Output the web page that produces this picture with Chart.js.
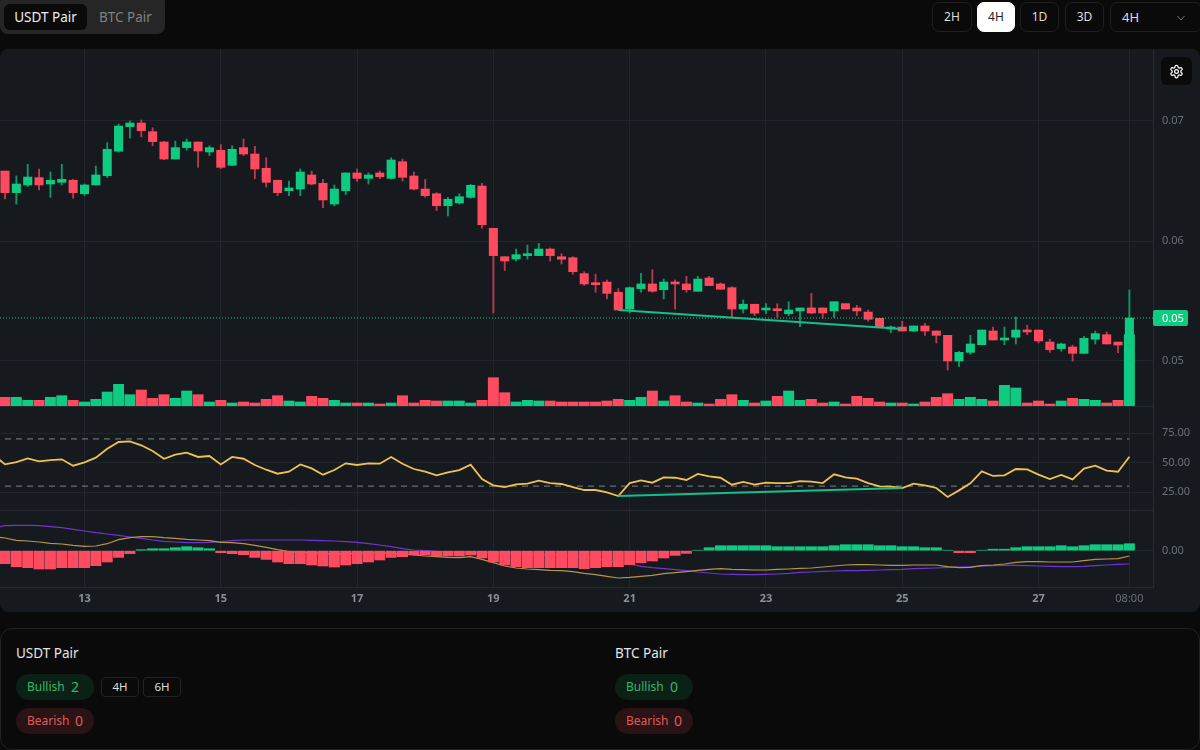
<!DOCTYPE html>
<html>
<head>
<meta charset="utf-8">
<script src="https://cdn.jsdelivr.net/npm/chart.js@4"></script>
<style>
  * { box-sizing: border-box; }
  html, body { margin: 0; width: 1200px; height: 750px; overflow: hidden; background: #0a0a0a; font-family: "Noto Sans", sans-serif; }
  .abs { position: absolute; }
  .seg { left: 0; top: -6px; width: 165px; height: 40px; background: #262626; border-radius: 8px; }
  .seg-on { left: 4px; top: 4px; width: 83px; height: 26px; background: #0a0a0a; border-radius: 6px; color: #eee; font-size: 13.5px; line-height: 26px; text-align: center; }
  .seg-off { left: 99px; top: 4px; color: #808080; font-size: 13.5px; line-height: 26px; }
  .tf { top: 2px; height: 30px; border: 1px solid #1f1f1f; border-radius: 7px; color: #ddd; font-size: 12px; line-height: 28px; text-align: center; }
  .tf.on { background: #fff; color: #222; border-color: #fff; }
  .panel { left: 0; top: 49px; width: 1200px; height: 563px; background: #161a1f; border-radius: 8px; overflow: hidden; }
  canvas { position: absolute; left: 0; display: block; }
  .gear { left: 1161px; top: 8px; width: 31px; height: 28px; background: #0a0a0a; border-radius: 6px; }
  .card { left: 0; top: 628px; width: 1200px; height: 122px; border: 1px solid #222; border-radius: 12px; background: #0a0a0a; }
  .title { top: 14px; color: #e5e5e5; font-size: 13.5px; line-height: 20px; }
  .pill { width: 78px; height: 26px; border-radius: 13px; font-size: 12px; line-height: 26px; padding-left: 11px; }
  .pill b { font-weight: 400; font-size: 14px; position: absolute; left: 55px; top: 0; }
  .bear b { left: 59px; }
  .bull { background: #0c2116; color: #37b56a; }
  .bear { background: #2a1315; color: #e05a5a; }
  .tag { top: 48px; height: 20px; border: 1px solid #222; border-radius: 4px; color: #ddd; font-size: 11.5px; line-height: 18px; text-align: center; }
</style>
</head>
<body>
<div class="abs seg">
  <div class="abs seg-on" style="top:10px">USDT Pair</div>
  <div class="abs seg-off" style="top:10px">BTC Pair</div>
</div>
<div class="abs tf" style="left:932px;width:40px">2H</div>
<div class="abs tf on" style="left:977px;width:38px">4H</div>
<div class="abs tf" style="left:1020px;width:39px">1D</div>
<div class="abs tf" style="left:1065px;width:39px">3D</div>
<div class="abs tf" style="left:1110px;width:92px;text-align:left;padding-left:11px;font-size:13px">4H
  <svg class="abs" style="left:64px;top:9px" width="12" height="12" viewBox="0 0 24 24" fill="none" stroke="#777" stroke-width="2"><polyline points="5 8 12 16 19 8"/></svg>
</div>

<div class="abs panel">
  <canvas id="priceChart" width="1200" height="358" style="top:0"></canvas>
  <canvas id="rsiChart" width="1200" height="105" style="top:357px"></canvas>
  <canvas id="macdChart" width="1200" height="102" style="top:461px"></canvas>
  <div class="abs gear">
    <svg class="abs" style="left:8px;top:7px" width="15" height="15" viewBox="0 0 24 24" fill="none" stroke="#fff" stroke-width="2" stroke-linecap="round" stroke-linejoin="round"><path d="M12.22 2h-.44a2 2 0 0 0-2 2v.18a2 2 0 0 1-1 1.73l-.43.25a2 2 0 0 1-2 0l-.15-.08a2 2 0 0 0-2.73.73l-.22.38a2 2 0 0 0 .73 2.73l.15.1a2 2 0 0 1 1 1.72v.51a2 2 0 0 1-1 1.74l-.15.09a2 2 0 0 0-.73 2.73l.22.38a2 2 0 0 0 2.73.73l.15-.08a2 2 0 0 1 2 0l.43.25a2 2 0 0 1 1 1.73V20a2 2 0 0 0 2 2h.44a2 2 0 0 0 2-2v-.18a2 2 0 0 1 1-1.73l.43-.25a2 2 0 0 1 2 0l.15.08a2 2 0 0 0 2.73-.73l.22-.39a2 2 0 0 0-.73-2.73l-.15-.08a2 2 0 0 1-1-1.74v-.5a2 2 0 0 1 1-1.74l.15-.09a2 2 0 0 0 .73-2.73l-.22-.38a2 2 0 0 0-2.73-.73l-.15.08a2 2 0 0 1-2 0l-.43-.25a2 2 0 0 1-1-1.73V4a2 2 0 0 0-2-2z"/><circle cx="12" cy="12" r="3"/></svg>
  </div>
</div>

<div class="abs card">
  <div class="abs title" style="left:15px">USDT Pair</div>
  <div class="abs pill bull" style="left:15px;top:45px">Bullish<b>2</b></div>
  <div class="abs tag" style="left:100px;width:38px">4H</div>
  <div class="abs tag" style="left:142px;width:38px">6H</div>
  <div class="abs pill bear" style="left:15px;top:79px">Bearish<b>0</b></div>
  <div class="abs title" style="left:614px">BTC Pair</div>
  <div class="abs pill bull" style="left:614px;top:45px">Bullish<b>0</b></div>
  <div class="abs pill bear" style="left:614px;top:79px">Bearish<b>0</b></div>
</div>

<script>
const candleIdx = Array.from({ length: 100 }, (_, i) => i);

const openPrices = [
  0.06583, 0.06403, 0.06467, 0.06528, 0.06475, 0.06489, 0.06506, 0.06394, 0.06467, 0.06544,
  0.06748, 0.06953, 0.06983, 0.06911, 0.06825, 0.06683, 0.06778, 0.06825, 0.06742, 0.06756,
  0.06631, 0.06778, 0.06725, 0.06606, 0.06506, 0.06419, 0.06433, 0.06550, 0.06481, 0.06308,
  0.06419, 0.06567, 0.06522, 0.06567, 0.06522, 0.06661, 0.06542, 0.06433, 0.06394, 0.06294,
  0.06317, 0.06364, 0.06458, 0.06106, 0.05869, 0.05850, 0.05878, 0.05878, 0.05933, 0.05869,
  0.05861, 0.05728, 0.05650, 0.05658, 0.05573, 0.05433, 0.05603, 0.05642, 0.05594, 0.05658,
  0.05642, 0.05581, 0.05692, 0.05642, 0.05611, 0.05433, 0.05473, 0.05425, 0.05433, 0.05394,
  0.05417, 0.05442, 0.05442, 0.05417, 0.05478, 0.05442, 0.05408, 0.05356, 0.05267, 0.05283,
  0.05250, 0.05292, 0.05250, 0.05214, 0.05000, 0.05072, 0.05136, 0.05250, 0.05175, 0.05198,
  0.05258, 0.05258, 0.05158, 0.05103, 0.05117, 0.05064, 0.05181, 0.05219, 0.05158, 0.05133
];
const closePrices = [
  0.06403, 0.06475, 0.06533, 0.06467, 0.06506, 0.06514, 0.06403, 0.06467, 0.06550, 0.06764,
  0.06958, 0.06983, 0.06919, 0.06828, 0.06683, 0.06778, 0.06825, 0.06750, 0.06778, 0.06614,
  0.06764, 0.06725, 0.06600, 0.06489, 0.06403, 0.06442, 0.06575, 0.06475, 0.06342, 0.06433,
  0.06567, 0.06522, 0.06550, 0.06536, 0.06675, 0.06531, 0.06433, 0.06378, 0.06294, 0.06348,
  0.06369, 0.06464, 0.06136, 0.05878, 0.05833, 0.05886, 0.05894, 0.05933, 0.05878, 0.05848,
  0.05744, 0.05642, 0.05636, 0.05564, 0.05425, 0.05611, 0.05642, 0.05581, 0.05658, 0.05642,
  0.05594, 0.05683, 0.05628, 0.05598, 0.05433, 0.05473, 0.05398, 0.05433, 0.05419, 0.05425,
  0.05442, 0.05400, 0.05400, 0.05494, 0.05433, 0.05417, 0.05348, 0.05281, 0.05278, 0.05250,
  0.05292, 0.05250, 0.05214, 0.05000, 0.05072, 0.05142, 0.05258, 0.05175, 0.05186, 0.05258,
  0.05242, 0.05167, 0.05094, 0.05142, 0.05064, 0.05189, 0.05228, 0.05142, 0.05133, 0.05358
];
const highPrices = [
  0.06583, 0.06542, 0.06639, 0.06600, 0.06575, 0.06639, 0.06514, 0.06475, 0.06625, 0.06819,
  0.06975, 0.07000, 0.07008, 0.06944, 0.06831, 0.06833, 0.06850, 0.06825, 0.06794, 0.06803,
  0.06794, 0.06850, 0.06789, 0.06694, 0.06508, 0.06500, 0.06600, 0.06583, 0.06514, 0.06467,
  0.06567, 0.06600, 0.06567, 0.06583, 0.06694, 0.06683, 0.06575, 0.06514, 0.06403, 0.06364,
  0.06394, 0.06472, 0.06481, 0.06106, 0.05869, 0.05933, 0.05967, 0.05981, 0.05942, 0.05894,
  0.05869, 0.05744, 0.05723, 0.05675, 0.05603, 0.05617, 0.05731, 0.05761, 0.05683, 0.05675,
  0.05706, 0.05706, 0.05706, 0.05650, 0.05619, 0.05508, 0.05473, 0.05478, 0.05478, 0.05494,
  0.05442, 0.05564, 0.05442, 0.05494, 0.05478, 0.05464, 0.05425, 0.05356, 0.05292, 0.05331,
  0.05292, 0.05314, 0.05250, 0.05214, 0.05081, 0.05214, 0.05258, 0.05283, 0.05283, 0.05367,
  0.05298, 0.05258, 0.05181, 0.05150, 0.05133, 0.05206, 0.05250, 0.05242, 0.05158, 0.05592
];
const lowPrices = [
  0.06350, 0.06308, 0.06453, 0.06425, 0.06364, 0.06467, 0.06356, 0.06378, 0.06467, 0.06528,
  0.06739, 0.06858, 0.06867, 0.06794, 0.06678, 0.06683, 0.06756, 0.06614, 0.06711, 0.06603,
  0.06628, 0.06711, 0.06519, 0.06450, 0.06378, 0.06378, 0.06378, 0.06467, 0.06278, 0.06292,
  0.06386, 0.06497, 0.06475, 0.06519, 0.06517, 0.06500, 0.06425, 0.06364, 0.06253, 0.06208,
  0.06308, 0.06356, 0.06106, 0.05400, 0.05753, 0.05833, 0.05848, 0.05878, 0.05833, 0.05808,
  0.05723, 0.05628, 0.05573, 0.05517, 0.05425, 0.05400, 0.05573, 0.05573, 0.05517, 0.05433,
  0.05573, 0.05581, 0.05628, 0.05598, 0.05356, 0.05400, 0.05378, 0.05394, 0.05364, 0.05378,
  0.05286, 0.05394, 0.05358, 0.05364, 0.05433, 0.05378, 0.05331, 0.05281, 0.05236, 0.05250,
  0.05242, 0.05214, 0.05150, 0.04925, 0.04953, 0.05056, 0.05136, 0.05175, 0.05136, 0.05142,
  0.05219, 0.05150, 0.05072, 0.05081, 0.05000, 0.05064, 0.05142, 0.05142, 0.05069, 0.05133
];
const volumes = [
  8.7, 8.7, 5.7, 5.7, 8.7, 10.3, 5.7, 4, 6.7, 14,
  21.7, 11.3, 16, 7.7, 11.3, 7.7, 15, 11.3, 4, 5.7,
  3, 4, 3, 6.7, 10.3, 5, 4, 9.7, 7.7, 5.7,
  3, 3, 3, 2, 3, 10.3, 3, 5.7, 5, 5,
  5, 3, 5.7, 28.3, 13.3, 4, 5.7, 5, 5, 4,
  4, 4, 4, 5, 6.7, 5.7, 8.7, 15, 5, 10.3,
  4, 3, 2, 6.7, 11.3, 5.7, 3, 5, 9.7, 15,
  5.7, 6.7, 3, 4, 2, 9.7, 7.7, 4, 3, 3,
  2, 4, 8.7, 12.3, 6.7, 8.7, 6.7, 5, 20.7, 18,
  3, 5, 2, 5, 7.7, 6.7, 5.7, 3, 5.7, 71.3
];
// first entry of the line series sits one candle before the left edge
const rsiValues = [
  56.4,
  48.4, 50.4, 53.5, 51.0, 52.1, 52.7, 47.3, 50.1, 54.1, 61.7,
  67.4, 67.9, 64.6, 59.7, 53.2, 56.6, 58.3, 54.7, 55.5, 48.4,
  54.7, 53.2, 47.9, 43.9, 40.5, 42.2, 48.4, 45.0, 39.7, 43.6,
  49.3, 47.9, 49.3, 49.0, 54.7, 49.0, 44.5, 42.2, 39.1, 41.7,
  43.6, 48.2, 36.0, 30.6, 29.2, 31.5, 32.1, 34.6, 32.6, 31.8,
  29.2, 26.7, 26.7, 24.7, 21.6, 32.6, 34.9, 32.9, 37.4, 37.1,
  35.2, 40.3, 38.3, 37.1, 31.2, 33.5, 31.2, 32.9, 32.6, 32.6,
  34.3, 33.8, 32.6, 40.0, 37.4, 36.3, 32.6, 29.8, 29.5, 28.4,
  32.1, 30.6, 28.4, 20.8, 26.4, 32.4, 42.5, 38.6, 39.1, 44.5,
  44.2, 39.7, 36.0, 39.4, 35.7, 44.8, 47.3, 43.1, 42.2, 54.9
];
const macdHist = [
  -0.0013, -0.0016, -0.0017, -0.00183, -0.00183, -0.0017, -0.0017, -0.0017, -0.0015, -0.00113,
  -0.00067, -0.0003, 0.0001, 0.0002, 0.0002, 0.0003, 0.0004, 0.0003, 0.0002, -0.0002,
  -0.0003, -0.0004, -0.00067, -0.00087, -0.00113, -0.0013, -0.0013, -0.00143, -0.00153, -0.00163,
  -0.00143, -0.0013, -0.00113, -0.00093, -0.00067, -0.0006, -0.00043, -0.00043, -0.00053, -0.00053,
  -0.00053, -0.00043, -0.00073, -0.00113, -0.00143, -0.0016, -0.0017, -0.0017, -0.0017, -0.0017,
  -0.0017, -0.0018, -0.0017, -0.0016, -0.0016, -0.0014, -0.0012, -0.00103, -0.00073, -0.00047,
  -0.00027, 0.00005, 0.0003, 0.0005, 0.0005, 0.0005, 0.0005, 0.0005, 0.0004, 0.0004,
  0.0004, 0.0004, 0.0004, 0.0005, 0.0006, 0.0006, 0.0006, 0.0005, 0.0005, 0.0004,
  0.0004, 0.0003, 0.0003, 0.00005, -0.0002, -0.0002, 0.00005, 0.00015, 0.00015, 0.0003,
  0.0004, 0.0004, 0.0004, 0.0005, 0.0004, 0.0005, 0.0006, 0.0006, 0.0006, 0.0007
];
const macdLine = [
  0.0014,
  0.00127, 0.00103, 0.00097, 0.00087, 0.00073, 0.00067, 0.00053, 0.00043, 0.00047, 0.0007,
  0.0011, 0.0013, 0.0014, 0.0014, 0.0013, 0.00123, 0.00113, 0.00107, 0.001, 0.00083,
  0.0008, 0.0007, 0.00053, 0.00033, 0.0001, -0.0001, -0.00017, -0.0002, -0.00027, -0.00033,
  -0.0003, -0.00027, -0.00023, -0.00017, -0.00027, -0.0003, -0.00043, -0.00053, -0.0006, -0.00067,
  -0.0007, -0.0006, -0.00087, -0.0012, -0.00153, -0.00173, -0.00183, -0.0019, -0.00197, -0.002,
  -0.0021, -0.00227, -0.0024, -0.00257, -0.00273, -0.00267, -0.00257, -0.00247, -0.0023, -0.0022,
  -0.0021, -0.00197, -0.00187, -0.0018, -0.00187, -0.0019, -0.00193, -0.00193, -0.00187, -0.00183,
  -0.00177, -0.00173, -0.00163, -0.00153, -0.00143, -0.0014, -0.0014, -0.00143, -0.00147, -0.00147,
  -0.00143, -0.00143, -0.00143, -0.0016, -0.0017, -0.00167, -0.0015, -0.00143, -0.00133, -0.00117,
  -0.0011, -0.0011, -0.00113, -0.00113, -0.00113, -0.001, -0.00087, -0.00083, -0.0008, -0.00053
];
const signalLine = [
  0.0023,
  0.0025, 0.00253, 0.00253, 0.0025, 0.0024, 0.0023, 0.00213, 0.00197, 0.0018, 0.00167,
  0.00153, 0.00137, 0.00123, 0.00107, 0.00093, 0.00087, 0.0008, 0.0008, 0.00083, 0.0009,
  0.001, 0.00107, 0.00107, 0.00107, 0.00107, 0.00107, 0.00107, 0.00103, 0.001, 0.00097,
  0.0009, 0.00083, 0.0007, 0.00057, 0.0004, 0.0002, 0.00007, 0, -0.00007, -0.0001,
  -0.00013, -0.00013, -0.00017, -0.0002, -0.00023, -0.00027, -0.0003, -0.00037, -0.0004, -0.00047,
  -0.00053, -0.00067, -0.0008, -0.001, -0.00117, -0.00133, -0.00157, -0.0017, -0.0018, -0.0019,
  -0.002, -0.00213, -0.00223, -0.00233, -0.00237, -0.0024, -0.0024, -0.00237, -0.00233, -0.00227,
  -0.00217, -0.00213, -0.00207, -0.00203, -0.002, -0.002, -0.00197, -0.00193, -0.0019, -0.00187,
  -0.0018, -0.00177, -0.00173, -0.00167, -0.00163, -0.0016, -0.00153, -0.0015, -0.00147, -0.00147,
  -0.0015, -0.00153, -0.00157, -0.0016, -0.0016, -0.00157, -0.0015, -0.00143, -0.00137, -0.00133
];

const dayTickIdx = [7, 19, 31, 43, 55, 67, 79, 91, 99];
const dayTickLabels = ['13', '15', '17', '19', '21', '23', '25', '27', '08:00'];
const priceTicks = [0.05, 0.06, 0.07];
const rsiTicks = [25, 50, 75];
const macdTicks = [0];
const rsiBands = [70, 30];

const dvgIdx = [54, 79];
const dvgPrice = [0.05425, 0.05267];
const dvgRsi = [21.6, 28.4];

const UP = '#0ecb81';
const DOWN = '#ff4a60';
const UP_WICK = '#0b9a64';
const DOWN_WICK = '#b93a4e';
const GRID = '#22262c';
const TICK = '#6b7078';

// x range of the pane area, in candle index units
const X_MIN = -0.44;
const X_MAX = 101.08;

const isUp = candleIdx.map(i => closePrices[i] >= openPrices[i]);
const lastClose = closePrices[closePrices.length - 1];

const xAxis = (showLabels) => ({
  type: 'linear',
  offset: false,
  min: X_MIN,
  max: X_MAX,
  afterBuildTicks: axis => { axis.ticks = dayTickIdx.map(value => ({ value })); },
  afterFit: axis => {
    axis.height = showLabels ? 25 : 0;
    axis.paddingLeft = 0;
    axis.paddingRight = 0;
  },
  grid: { color: GRID, drawTicks: false, offset: false },
  border: { display: true, color: '#262a31' },
  ticks: {
    display: showLabels,
    autoSkip: false,
    maxRotation: 0,
    padding: 5,
    color: ctx => ctx.index === dayTickIdx.length - 1 ? '#6b7078' : '#8a8f98',
    font: ctx => ({
      family: '"Noto Sans"',
      size: 11,
      weight: ctx.index === dayTickIdx.length - 1 ? '400' : '700'
    }),
    callback: (value, index) => dayTickLabels[index]
  }
});

const yAxis = (min, max, tickValues, digits) => ({
  position: 'right',
  min,
  max,
  afterBuildTicks: axis => { axis.ticks = tickValues.map(value => ({ value })); },
  afterFit: axis => {
    axis.width = 47;
    axis.paddingTop = 0;
    axis.paddingBottom = 0;
  },
  grid: { color: GRID, drawTicks: false },
  border: { display: true, color: '#262a31' },
  ticks: {
    padding: 9,
    color: TICK,
    font: { family: '"Noto Sans"', size: 11 },
    callback: value => value.toFixed(digits)
  }
});

const createPane = (id, datasets, scales, bottomPadding, plugins = []) => new Chart(document.getElementById(id), {
  type: 'bar',
  data: { datasets },
  plugins,
  options: {
    responsive: false,
    animation: false,
    devicePixelRatio: 1,
    layout: { padding: { left: 0, right: 0, top: 0, bottom: bottomPadding } },
    plugins: { legend: { display: false }, tooltip: { enabled: false } },
    datasets: { bar: { grouped: false } },
    scales
  }
});

const lastPriceBadge = {
  id: 'lastPriceBadge',
  afterDraw(chart) {
    const { ctx, scales } = chart;
    const y = scales.y.getPixelForValue(lastClose);
    ctx.save();
    ctx.fillStyle = UP;
    ctx.beginPath();
    ctx.roundRect(scales.y.left, y - 8, 35, 16, 2);
    ctx.fill();
    ctx.fillStyle = '#fff';
    ctx.font = '11px "Noto Sans"';
    ctx.textBaseline = 'middle';
    ctx.fillText(lastClose.toFixed(2), scales.y.left + 9, y + 0.5);
    ctx.restore();
  }
};

createPane('priceChart', [
  {
    label: 'Last price',
    type: 'line',
    data: [{ x: X_MIN, y: lastClose }, { x: X_MAX, y: lastClose }],
    borderColor: UP,
    borderWidth: 1,
    borderDash: [1, 2],
    pointRadius: 0,
    yAxisID: 'y',
    order: 2
  },
  {
    label: 'Divergence',
    type: 'line',
    data: dvgIdx.map((x, i) => ({ x, y: dvgPrice[i] })),
    borderColor: '#14c08a',
    borderWidth: 2,
    pointRadius: 0,
    yAxisID: 'y',
    order: 1
  },
  {
    label: 'Volume',
    data: candleIdx.map(i => ({ x: i, y: volumes[i] })),
    backgroundColor: candleIdx.map(i => isUp[i] ? UP : DOWN),
    barThickness: 10.3,
    yAxisID: 'vol',
    order: 5
  },
  {
    label: 'Wick',
    data: candleIdx.map(i => ({ x: i, y: [lowPrices[i], highPrices[i]] })),
    backgroundColor: candleIdx.map(i => isUp[i] ? UP_WICK : DOWN_WICK),
    barThickness: 1.2,
    yAxisID: 'y',
    order: 4
  },
  {
    label: 'Body',
    data: candleIdx.map(i => ({ x: i, y: [openPrices[i], closePrices[i]] })),
    backgroundColor: candleIdx.map(i => isUp[i] ? UP : DOWN),
    barThickness: 8.4,
    minBarLength: 2,
    yAxisID: 'y',
    order: 3
  }
], {
  x: xAxis(false),
  y: yAxis(0.04625, 0.076, priceTicks, 2),
  vol: { display: false, min: 0, max: 357 }
}, 1, [lastPriceBadge]);

createPane('rsiChart', [
  {
    label: 'RSI',
    type: 'line',
    data: rsiValues.map((y, i) => ({ x: i - 1, y })),
    borderColor: '#eec153',
    borderWidth: 1.8,
    pointRadius: 0,
    order: 2
  },
  ...rsiBands.map(level => ({
    label: 'Band ' + level,
    type: 'line',
    data: [{ x: candleIdx[0], y: level }, { x: candleIdx[candleIdx.length - 1], y: level }],
    borderColor: '#7f848a',
    borderWidth: 1,
    borderDash: [6, 5],
    pointRadius: 0,
    order: 3
  })),
  {
    label: 'RSI divergence',
    type: 'line',
    data: dvgIdx.map((x, i) => ({ x, y: dvgRsi[i] })),
    borderColor: '#14c08a',
    borderWidth: 2,
    pointRadius: 0,
    order: 1
  }
], {
  x: xAxis(false),
  y: yAxis(9.75, 97.9, rsiTicks, 2)
}, 1);

createPane('macdChart', [
  {
    label: 'MACD',
    type: 'line',
    data: macdLine.map((y, i) => ({ x: i - 1, y })),
    borderColor: '#b3964a',
    borderWidth: 1.2,
    pointRadius: 0,
    order: 2
  },
  {
    label: 'Signal',
    type: 'line',
    data: signalLine.map((y, i) => ({ x: i - 1, y })),
    borderColor: '#6f35d0',
    borderWidth: 1.2,
    pointRadius: 0,
    order: 3
  },
  {
    label: 'Histogram',
    data: candleIdx.map(i => ({ x: i, y: macdHist[i] })),
    backgroundColor: candleIdx.map(i => macdHist[i] >= 0 ? UP : DOWN),
    barThickness: 10.3,
    order: 1
  }
], {
  x: xAxis(true),
  y: yAxis(-0.00363, 0.00407, macdTicks, 2)
}, 0);
</script>
</body>
</html>
